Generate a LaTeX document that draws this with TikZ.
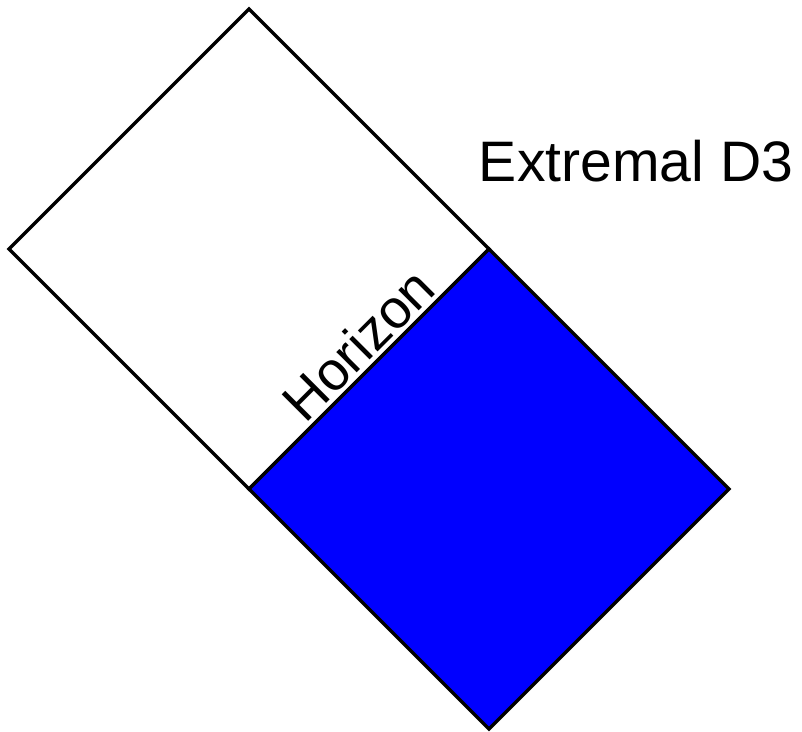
\documentclass[tikz,border=0pt]{standalone}
\usepackage{fontspec}
\setmainfont{Liberation Sans}
\usetikzlibrary{positioning}

\begin{document}
\begin{tikzpicture}[
  x=0.02cm, y=-0.02cm,
  region/.style={draw=black, line width=2pt, line join=miter},
  interior/.style={region, fill=blue},
  exterior/.style={region, fill=white},
  lbl/.style={font=\fontsize{32.5}{36}\selectfont, inner sep=0pt},
  hlbl/.style={font=\fontsize{31}{35}\selectfont, inner sep=0pt}
]
\useasboundingbox (0,0) rectangle (802,732);

% --- corners of the two diamonds ---
\coordinate (top)    at (249,9);
\coordinate (left)   at (9,249);
\coordinate (hleft)  at (249,489);
\coordinate (hright) at (489,249);
\coordinate (right)  at (729,489);
\coordinate (bottom) at (489,729);

% --- outside region (white) and inside the horizon (blue) ---
\draw[exterior] (top) -- (left) -- (hleft) -- (hright) -- cycle;
\draw[interior] (hright) -- (hleft) -- (bottom) -- (right) -- cycle;

% --- labels ---
\node[hlbl, anchor=base, rotate=45] (horizon) at (372,358) {Horizon};
\node[lbl, anchor=base] (title) at (636,182) {Extremal D3};

\end{tikzpicture}
\end{document}
